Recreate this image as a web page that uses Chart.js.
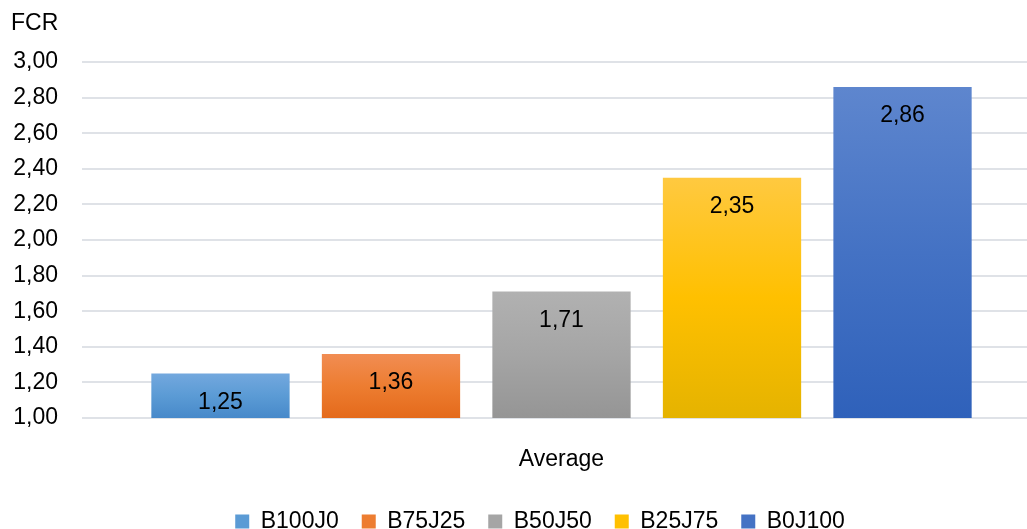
<!DOCTYPE html>
<html>
<head>
<meta charset="utf-8">
<title>FCR</title>
<script src="https://cdn.jsdelivr.net/npm/chart.js@4/dist/chart.umd.min.js"></script>
<style>
  html, body { margin: 0; padding: 0; background: #ffffff; overflow: hidden; }
  #wrap { width: 1041px; height: 543px; }
</style>
</head>
<body>
<div id="wrap"><canvas id="chart" width="1041" height="543"></canvas></div>
<script>
// Chart data
const categories = ['Average'];
const seriesNames = ['B100J0', 'B75J25', 'B50J50', 'B25J75', 'B0J100'];
const fcrValues = [1.25, 1.36, 1.71, 2.35, 2.86];
const yTickLabels = ['1,00', '1,20', '1,40', '1,60', '1,80', '2,00', '2,20', '2,40', '2,60', '2,80', '3,00'];
const axisTitle = 'FCR';

// Bar fills: [top, middle, bottom] of each vertical gradient
const barShades = [
  ['#73A8DE', '#5B9BD5', '#4789CA'],
  ['#F18D53', '#ED7D31', '#E46A1B'],
  ['#B1B1B1', '#A5A5A5', '#959595'],
  ['#FFC940', '#FFC000', '#E5B300'],
  ['#5E86CE', '#4472C4', '#2F61BA']
];

const FONT = '"Liberation Sans", Arial, sans-serif';
const FONT_SIZE = 23;
const CAP_HALF = FONT_SIZE * 0.716 / 2;   // half the cap height, for centring text on a point
const LEGEND_SHIFT = 19.5;                // legend sits a little right of the canvas centre

function formatComma(v) {
  return v.toFixed(2).replace('.', ',');
}

function barGradient(ctx, shades) {
  if (ctx.type !== 'data') return shades[1];
  const chart = ctx.chart;
  const y = chart.scales.y;
  if (!y) return shades[1];
  const top = y.getPixelForValue(ctx.raw);
  const bottom = y.getPixelForValue(y.min);
  if (!isFinite(top) || !isFinite(bottom) || top === bottom) return shades[1];
  const g = chart.ctx.createLinearGradient(0, top, 0, bottom);
  g.addColorStop(0, shades[0]);
  g.addColorStop(0.5, shades[1]);
  g.addColorStop(1, shades[2]);
  return g;
}

const datasets = seriesNames.map((name, i) => ({
  label: name,
  data: [fcrValues[i]],
  backgroundColor: (ctx) => barGradient(ctx, barShades[i]),
  borderWidth: 0
}));

// Value labels just inside the top of each bar
const valueLabels = {
  id: 'valueLabels',
  afterDatasetsDraw(chart) {
    const c = chart.ctx;
    c.save();
    c.font = FONT_SIZE + 'px ' + FONT;
    c.fillStyle = '#000000';
    c.textAlign = 'center';
    c.textBaseline = 'alphabetic';
    chart.data.datasets.forEach((ds, i) => {
      const meta = chart.getDatasetMeta(i);
      meta.data.forEach((bar, j) => {
        const v = ds.data[j];
        const cy = Math.min(bar.y + 27, (bar.y + bar.base) / 2);
        c.fillText(formatComma(v), bar.x, cy + CAP_HALF);
      });
    });
    c.restore();
  }
};

// Horizontal axis title above the value axis
const axisCaption = {
  id: 'axisCaption',
  afterDraw(chart) {
    const c = chart.ctx;
    c.save();
    c.font = FONT_SIZE + 'px ' + FONT;
    c.fillStyle = '#000000';
    c.textAlign = 'left';
    c.textBaseline = 'alphabetic';
    c.fillText(axisTitle, 11, 21.3 + CAP_HALF);
    c.restore();
  }
};

// Nudge the legend row horizontally after layout
const legendOffset = {
  id: 'legendOffset',
  afterLayout(chart) {
    const lg = chart.legend;
    if (lg) { lg.left += LEGEND_SHIFT; lg.right += LEGEND_SHIFT; }
  }
};

new Chart(document.getElementById('chart'), {
  type: 'bar',
  data: { labels: categories, datasets },
  plugins: [valueLabels, axisCaption, legendOffset],
  options: {
    responsive: false,
    animation: false,
    events: [],
    layout: { padding: { top: 62, left: 0, right: 0, bottom: 0 } },
    datasets: {
      bar: { categoryPercentage: 0.889, barPercentage: 0.811 }
    },
    scales: {
      x: {
        grid: { display: false, drawTicks: false },
        border: { display: false },
        ticks: {
          color: '#000000',
          padding: 28,
          font: { family: FONT, size: FONT_SIZE }
        },
        afterFit(scale) { scale.height = 69; }
      },
      y: {
        min: 1,
        max: 3,
        grid: { color: '#DFE2E7', lineWidth: 2, drawTicks: false },
        border: { display: false },
        ticks: {
          stepSize: 0.2,
          color: '#000000',
          padding: 24,
          font: { family: FONT, size: FONT_SIZE },
          callback: (value, index) => yTickLabels[index]
        },
        afterFit(scale) { scale.width = 82; }
      }
    },
    plugins: {
      tooltip: { enabled: false },
      title: { display: false },
      legend: {
        position: 'bottom',
        labels: {
          color: '#000000',
          boxWidth: 14,
          boxHeight: 14,
          padding: 23,
          font: { family: FONT, size: FONT_SIZE },
          generateLabels(chart) {
            return chart.data.datasets.map((ds, i) => ({
              text: ds.label,
              fillStyle: barShades[i][1],
              strokeStyle: barShades[i][1],
              lineWidth: 0,
              hidden: false,
              datasetIndex: i,
              fontColor: '#000000'
            }));
          }
        }
      }
    }
  }
});
</script>
</body>
</html>
